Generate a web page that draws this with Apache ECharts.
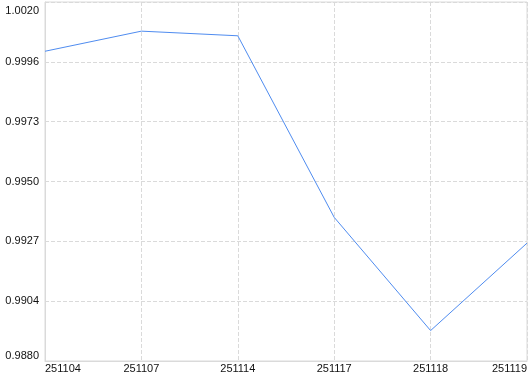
<!DOCTYPE html>
<html>
<head>
<meta charset="utf-8">
<script src="https://cdn.jsdelivr.net/npm/echarts@6/dist/echarts.min.js"></script>
<style>
html,body{margin:0;padding:0;background:#fff;}
#chart{width:530px;height:374px;}
</style>
</head>
<body>
<div id="chart"></div>
<script>
var categories = ['251104', '251107', '251114', '251117', '251118', '251119'];
var values = [1.00005, 1.00083, 1.00065, 0.99361, 0.98922, 0.99261];
var yMin = 0.98804;
var yMax = 1.00196;
var yTickLabels = ['0.9880', '0.9904', '0.9927', '0.9950', '0.9973', '0.9996', '1.0020'];

var chart = echarts.init(document.getElementById('chart'), null, {renderer: 'canvas'});
var gridColor = '#dadada';
chart.setOption({
  animation: false,
  backgroundColor: '#ffffff',
  grid: {
    left: 45, right: 2, top: 2, bottom: 13,
    show: true, borderColor: gridColor, borderWidth: 1, containLabel: false
  },
  xAxis: {
    type: 'category',
    data: categories,
    boundaryGap: false,
    axisLine: {show: true, lineStyle: {color: gridColor, width: 1}},
    axisTick: {show: false},
    axisLabel: {
      show: true, margin: 2, color: '#111',
      fontFamily: 'Liberation Sans', fontSize: 11,
      interval: 0,
      alignMinLabel: 'left', alignMaxLabel: 'right'
    },
    splitLine: {show: true, lineStyle: {color: gridColor, type: [4, 2], width: 1}}
  },
  yAxis: {
    type: 'value',
    min: yMin,
    max: yMax,
    interval: (yMax - yMin) / 6,
    axisLine: {show: true, lineStyle: {color: gridColor, width: 1}},
    axisTick: {show: false},
    axisLabel: {
      show: true, margin: 6, color: '#111',
      fontFamily: 'Liberation Sans', fontSize: 11,
      padding: [3, 0, 0, 0],
      verticalAlignMinLabel: 'bottom',
      verticalAlignMaxLabel: 'top',
      formatter: function (v, i) { return yTickLabels[i] !== undefined ? yTickLabels[i] : v.toFixed(4); }
    },
    splitLine: {show: true, lineStyle: {color: gridColor, type: [4, 2], width: 1}}
  },
  series: [{
    type: 'line',
    data: values,
    showSymbol: false,
    symbol: 'none',
    lineStyle: {color: '#4f8cf0', width: 1},
    itemStyle: {color: '#4f8cf0'}
  }]
});
</script>
</body>
</html>
